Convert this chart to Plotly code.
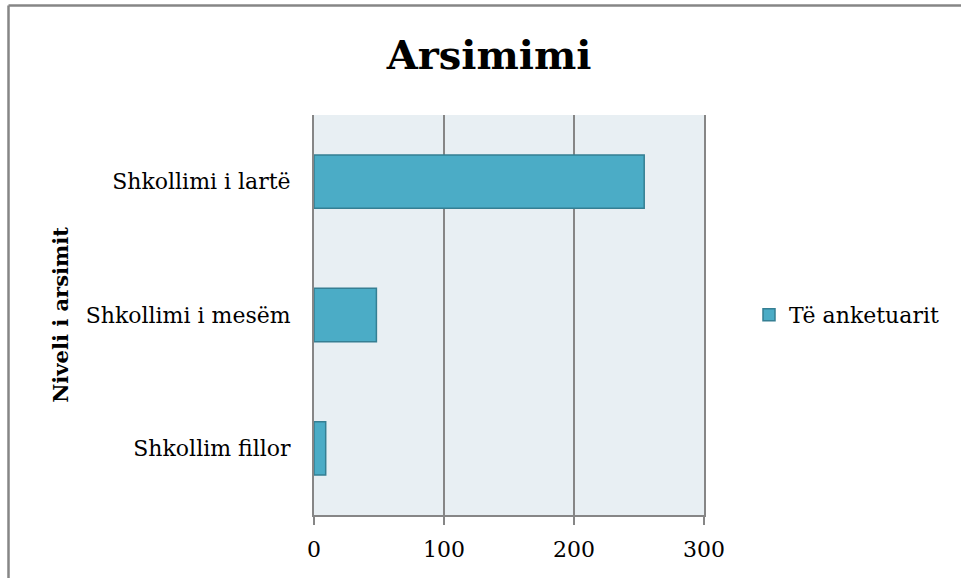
import plotly.graph_objects as go

categories = ["Shkollim fillor", "Shkollimi i mesëm", "Shkollimi i lartë"]
values = [9, 48, 254]
series_name = "Të anketuarit"
x_ticks = [0, 100, 200, 300]

FONT = "DejaVu Serif"

# plot area in pixels: left 314, right 704, top 115, bottom 515
def px(x):
    return (x - 314) / 390

def py(y):
    return (515 - y) / 400

fig = go.Figure()
fig.add_trace(go.Bar(
    y=categories, x=values, orientation="h", name=series_name,
    marker=dict(color="#4BACC6", line=dict(color="#357F93", width=1.5)),
    showlegend=True,
))

fig.update_layout(
    width=961, height=578,
    margin=dict(l=314, r=257, t=115, b=63),
    paper_bgcolor="white", plot_bgcolor="#E8EFF3",
    bargap=0.6,
    font=dict(family=FONT, size=22, color="black"),
    title=dict(text="<b>Arsimimi</b>", x=0.509, xanchor="center", y=0.905, yanchor="middle",
               font=dict(family=FONT, size=40, color="black")),
    xaxis=dict(range=[0, 300], tickvals=x_ticks, showgrid=True, gridcolor="#868686", gridwidth=2,
               zeroline=False, showline=True, linecolor="#868686", linewidth=2,
               ticks="outside", ticklen=8, tickcolor="#868686", tickwidth=2,
               ticklabelstandoff=6, tickfont=dict(family=FONT, size=22)),
    yaxis=dict(showgrid=False, zeroline=False, showline=True, mirror=True,
               linecolor="#868686", linewidth=2, ticks="",
               ticklabelstandoff=17, tickfont=dict(family=FONT, size=22),
               title=dict(text="<b>Niveli i arsimit</b>", standoff=11,
                          font=dict(family=FONT, size=21))),
    legend=dict(x=px(749), y=0.5, xanchor="left", yanchor="middle",
                font=dict(family=FONT, size=22), bgcolor="rgba(0,0,0,0)"),
    shapes=[
        dict(type="line", xref="paper", yref="paper",
             x0=px(8.5), x1=px(8.5), y0=py(5.5), y1=py(600),
             line=dict(color="#868686", width=2.5)),
        dict(type="line", xref="paper", yref="paper",
             x0=px(8.5), x1=px(1000), y0=py(5.5), y1=py(5.5),
             line=dict(color="#868686", width=2.5)),
    ],
)

fig.write_html("out.html", config={"displayModeBar": False},
               post_script="document.body.style.margin='0';")
